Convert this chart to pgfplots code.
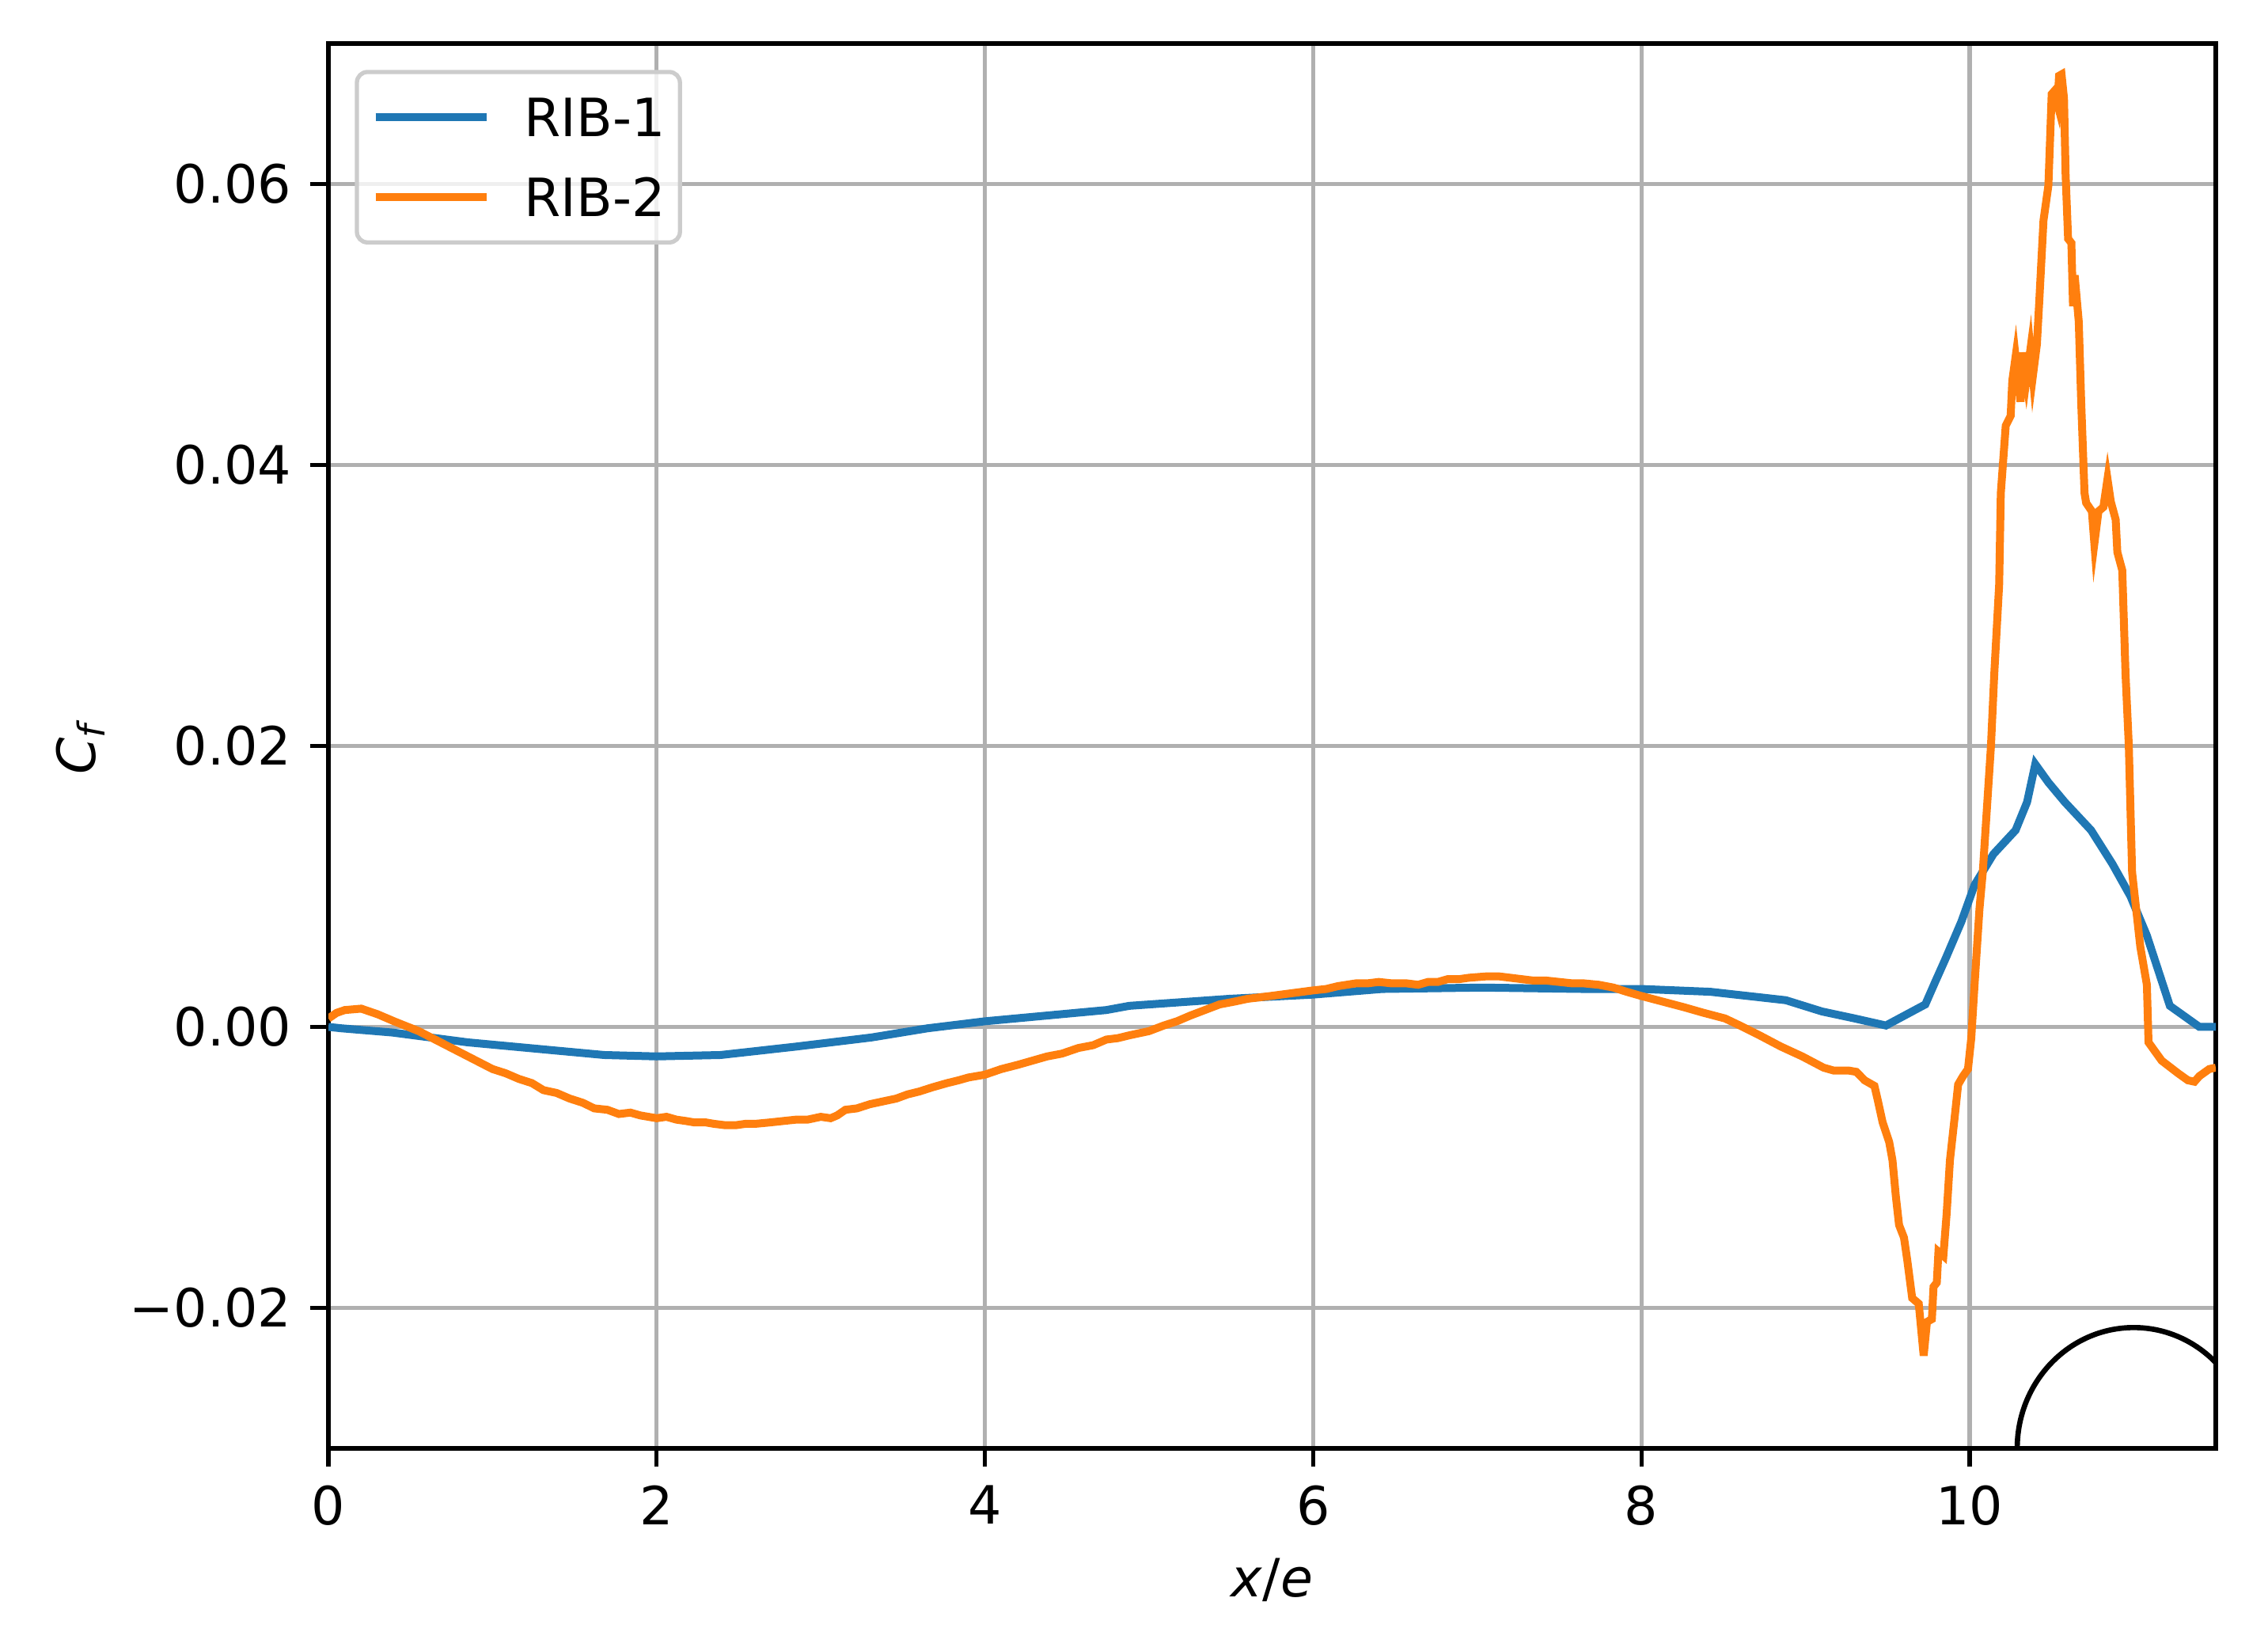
\documentclass[border=0pt]{standalone}
\usepackage{fontspec}
\setmainfont{DejaVu Sans}
\usepackage{pgfplots}
\usepackage{pgfplotstable}
\pgfplotsset{compat=1.18}
\definecolor{tabblue}{HTML}{1F77B4}
\definecolor{taborange}{HTML}{FF7F0E}
\definecolor{gridgray}{HTML}{B0B0B0}
\definecolor{legedge}{HTML}{CCCCCC}

\pgfplotstableread{
x y
0.00 0.0000
0.08 -0.0001
0.39 -0.0004
0.85 -0.0011
1.31 -0.0016
1.68 -0.0020
2.00 -0.0021
2.39 -0.0020
2.85 -0.0014
3.31 -0.00075
3.65 -0.0001
4.00 0.0004
4.74 0.0012
4.88 0.0015
5.49 0.0020
6.00 0.0023
6.42 0.0027
7.03 0.0028
7.65 0.0027
8.00 0.0027
8.42 0.0025
8.88 0.0019
9.10 0.0011
9.30 0.0006
9.49 0.0001
9.73 0.0016
9.79 0.0032
9.855 0.0049
9.95 0.0075
10.03 0.0101
10.145 0.0123
10.28 0.0140
10.35 0.0160
10.40 0.0187
10.48 0.0174
10.58 0.0160
10.74 0.0140
10.87 0.0116
10.98 0.0093
11.08 0.0065
11.22 0.0015
11.40 0.0000
11.50 0.0000
}\ribone

\pgfplotstableread{
x y
0.00 0.0006
0.05 0.0010
0.10 0.0012
0.20 0.0013
0.30 0.0009
0.40 0.0004
0.55 -0.0003
0.70 -0.0012
0.85 -0.0021
1.00 -0.0030
1.08 -0.0033
1.16 -0.0037
1.24 -0.0040
1.31 -0.0045
1.39 -0.0047
1.47 -0.0051
1.55 -0.0054
1.62 -0.0058
1.70 -0.0059
1.77 -0.0062
1.84 -0.0061
1.90 -0.0063
2.00 -0.0065
2.06 -0.0064
2.12 -0.0066
2.18 -0.0067
2.23 -0.0068
2.30 -0.0068
2.35 -0.0069
2.42 -0.0070
2.48 -0.0070
2.54 -0.0069
2.60 -0.0069
2.69 -0.0068
2.77 -0.0067
2.85 -0.0066
2.92 -0.0066
3.00 -0.0064
3.06 -0.0065
3.10 -0.0063
3.15 -0.0059
3.22 -0.0058
3.30 -0.0055
3.38 -0.0053
3.46 -0.0051
3.53 -0.0048
3.60 -0.0046
3.68 -0.0043
3.77 -0.0040
3.84 -0.0038
3.90 -0.0036
4.00 -0.0034
4.10 -0.0030
4.20 -0.0027
4.29 -0.0024
4.38 -0.0021
4.47 -0.0019
4.57 -0.0015
4.66 -0.0013
4.74 -0.0009
4.81 -0.0008
4.88 -0.0006
5.00 -0.0003
5.09 0.0001
5.17 0.0004
5.25 0.0008
5.34 0.0012
5.43 0.0016
5.52 0.0018
5.60 0.0020
5.67 0.0021
5.74 0.0022
5.87 0.0024
6.00 0.0026
6.08 0.0027
6.15 0.0029
6.26 0.0031
6.33 0.0031
6.40 0.0032
6.48 0.0031
6.57 0.0031
6.64 0.0030
6.70 0.0032
6.76 0.0032
6.82 0.0034
6.89 0.0034
6.95 0.0035
7.06 0.0036
7.13 0.0036
7.20 0.0035
7.27 0.0034
7.34 0.0033
7.42 0.0033
7.50 0.0032
7.58 0.0031
7.65 0.0031
7.74 0.0030
7.83 0.0028
7.91 0.0025
8.00 0.0022
8.13 0.0018
8.26 0.0014
8.38 0.0010
8.51 0.0006
8.60 0.0001
8.72 -0.0006
8.85 -0.0014
8.98 -0.0021
9.11 -0.0029
9.17 -0.0031
9.26 -0.0031
9.31 -0.0032
9.36 -0.0038
9.42 -0.0042
9.44 -0.0052
9.47 -0.0068
9.51 -0.0082
9.53 -0.0095
9.55 -0.0120
9.57 -0.0141
9.60 -0.0150
9.62 -0.0166
9.65 -0.0193
9.69 -0.0197
9.72 -0.0234
9.74 -0.0210
9.77 -0.0208
9.78 -0.0185
9.80 -0.0182
9.81 -0.0160
9.84 -0.0163
9.86 -0.0133
9.88 -0.0095
9.91 -0.0063
9.93 -0.0041
9.96 -0.0035
9.99 -0.0030
10.01 -0.0008
10.03 0.0030
10.06 0.0084
10.08 0.0110
10.13 0.0200
10.15 0.0251
10.18 0.0315
10.19 0.0380
10.21 0.0412
10.22 0.0428
10.25 0.0435
10.26 0.0460
10.28 0.0477
10.31 0.0445
10.32 0.0480
10.345 0.0460
10.37 0.0482
10.385 0.0463
10.41 0.0486
10.425 0.0518
10.45 0.0574
10.48 0.0599
10.50 0.0664
10.515 0.0666
10.535 0.0657
10.545 0.0677
10.56 0.0678
10.575 0.0661
10.585 0.0606
10.60 0.0561
10.62 0.0558
10.63 0.0513
10.64 0.0535
10.665 0.0502
10.68 0.0444
10.70 0.0380
10.71 0.0373
10.745 0.0367
10.76 0.0344
10.785 0.0367
10.815 0.0370
10.84 0.0390
10.86 0.0374
10.89 0.0361
10.90 0.0338
10.93 0.0325
10.95 0.0251
10.97 0.0200
10.99 0.0110
11.04 0.0057
11.08 0.0030
11.09 -0.0011
11.17 -0.0024
11.27 -0.0033
11.33 -0.0038
11.37 -0.0039
11.40 -0.0035
11.46 -0.0030
11.50 -0.0029
}\ribtwo

\begin{document}
\begin{tikzpicture}
\path[use as bounding box] (-62.25pt,-34.8pt) rectangle (367.65pt,274.5pt);
\begin{axis}[
  scale only axis,
  width=357.75pt, height=266.25pt,
  xmin=0, xmax=11.5, ymin=-0.03, ymax=0.07,
  scaled y ticks=false, scaled x ticks=false,
  xtick={0,2,4,6,8,10},
  xticklabels={0,2,4,6,8,10},
  ytick={-0.02,0,0.02,0.04,0.06},
  yticklabels={−0.02,0.00,0.02,0.04,0.06},
  tick pos=left,
  tick align=outside,
  major tick length=3.5pt,
  tick style={black, line width=0.8pt},
  axis line style={black, line width=0.8pt},
  grid=major,
  major grid style={gridgray, line width=0.8pt},
  every tick label/.append style={font=\fontsize{10}{12}\selectfont},
  every axis x label/.style={at={(axis description cs:0.5,0)}, anchor=center, yshift=-25pt},
  every axis y label/.style={at={(axis description cs:0,0.5)}, rotate=90, anchor=center, yshift=47pt},
  xlabel={\textit{x}/\textit{e}},
  ylabel={\textit{C}\textsubscript{\textit{f}}},
  legend cell align=left,
  legend image code/.code={\draw[#1] (0pt,0pt) -- (21pt,0pt);},
  legend style={at={(0,1)}, anchor=north west, xshift=5pt, yshift=-5pt,
    draw=legedge, line width=0.8pt, rounded corners=2pt, fill=white, fill opacity=0.8, text opacity=1,
    inner xsep=2.8pt, inner ysep=4.9pt, row sep=7.9pt,
    nodes={inner sep=0pt, text height=7.3pt, text depth=0pt},
    /tikz/every odd column/.append style={column sep=6.4pt},
    font=\fontsize{10}{12}\selectfont},
]
\addplot[tabblue, line width=1.5pt] table[x=x,y=y] {\ribone};
\addlegendentry{RIB-1}
\addplot[taborange, line width=1.5pt] table[x=x,y=y] {\ribtwo};
\addlegendentry{RIB-2}
\draw[black, line width=1pt] (axis cs:11,-0.03) ellipse [x radius=0.71, y radius=0.0086];
\end{axis}
\end{tikzpicture}
\end{document}
